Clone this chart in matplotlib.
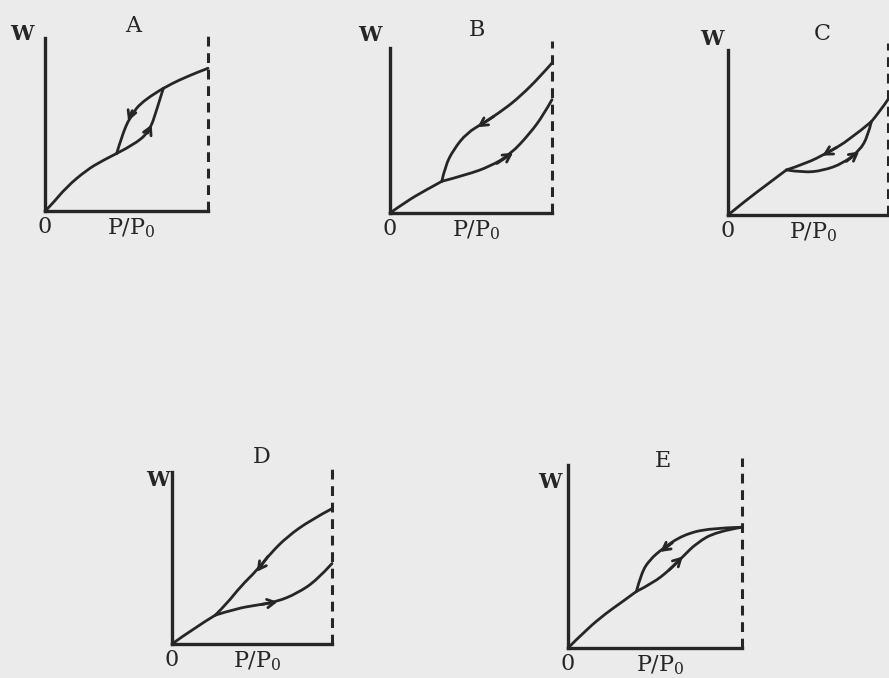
import matplotlib
matplotlib.use("Agg")
import matplotlib.pyplot as plt
from matplotlib.path import Path
from matplotlib.patches import PathPatch

plt.rcParams['font.family'] = ['DejaVu Serif']
plt.rcParams['mathtext.fontset'] = 'dejavuserif'

# panel boxes in pixels: (left, bottom, right, top) of the W axis / P/P0 axis
panel_box = {
    'A': (45, 211, 208, 38),
    'B': (390, 213, 552, 48),
    'C': (728, 215, 888, 50),
    'D': (172, 644, 332, 472),
    'E': (568, 648, 742, 465),
}
# pixel anchors (x centre, baseline) for the panel letter and the W label
letter_pos = {'A': (133, 32), 'B': (477, 36), 'C': (822, 40), 'D': (262, 463), 'E': (663, 467)}
w_pos = {'A': (22, 40), 'B': (370, 41), 'C': (712, 45), 'D': (158, 486), 'E': (550, 488)}

# curves, normalised to each panel (x: 0..1, y: 0..1)
A_common = [(0, 0), (0.03, 0.025), (0.133, 0.14), (0.256, 0.237), (0.35, 0.29), (0.44, 0.333)]
A_ads = [(0.44, 0.333), (0.562, 0.391), (0.644, 0.468), (0.685, 0.584), (0.726, 0.709)]
A_des = [(0.726, 0.709), (0.603, 0.642), (0.521, 0.545), (0.47, 0.43), (0.44, 0.333)]
A_top = [(0.726, 0.709), (0.79, 0.742), (0.849, 0.767), (0.93, 0.80), (1.0, 0.825)]
A_arrows = [((0.535, 0.58), (0.51, 0.52)), ((0.63, 0.45), (0.655, 0.50))]

B_common = [(0, 0), (0.103, 0.071), (0.206, 0.131), (0.32, 0.192)]
B_ads = [(0.32, 0.192), (0.474, 0.232), (0.619, 0.283), (0.742, 0.354), (0.866, 0.485), (0.948, 0.596), (1.0, 0.687)]
B_des = [(1.0, 0.909), (0.928, 0.828), (0.804, 0.707), (0.701, 0.626), (0.577, 0.545), (0.474, 0.485),
         (0.392, 0.384), (0.34, 0.283), (0.32, 0.192)]
B_top = []
B_arrows = [((0.64, 0.585), (0.54, 0.52)), ((0.66, 0.30), (0.76, 0.365))]

C_common = [(0, 0), (0.115, 0.091), (0.24, 0.182), (0.365, 0.273)]
C_ads = [(0.365, 0.273), (0.469, 0.257), (0.594, 0.269), (0.719, 0.313), (0.823, 0.39), (0.875, 0.48), (0.896, 0.566)]
C_des = [(0.896, 0.566), (0.76, 0.455), (0.615, 0.374), (0.49, 0.313), (0.365, 0.273)]
C_top = [(0.896, 0.566), (0.948, 0.626), (1.0, 0.70)]
C_arrows = [((0.68, 0.41), (0.59, 0.36)), ((0.74, 0.325), (0.82, 0.385))]

D_common = [(0, 0), (0.135, 0.091), (0.271, 0.168)]
D_ads = [(0.271, 0.168), (0.406, 0.207), (0.531, 0.226), (0.656, 0.246), (0.781, 0.294), (0.906, 0.371), (1.0, 0.468)]
D_des = [(1.0, 0.787), (0.865, 0.72), (0.719, 0.623), (0.615, 0.526), (0.531, 0.429), (0.427, 0.333),
         (0.344, 0.236), (0.271, 0.168)]
D_top = []
D_arrows = [((0.60, 0.51), (0.53, 0.42)), ((0.56, 0.23), (0.66, 0.245))]

E_common = [(0, 0), (0.105, 0.10), (0.22, 0.191), (0.297, 0.242), (0.393, 0.309)]
E_ads = [(0.393, 0.309), (0.489, 0.355), (0.584, 0.427), (0.661, 0.50), (0.738, 0.573), (0.852, 0.636), (1.0, 0.66)]
E_des = [(1.0, 0.66), (0.814, 0.655), (0.661, 0.618), (0.546, 0.545), (0.469, 0.482), (0.421, 0.409), (0.393, 0.309)]
E_top = []
E_arrows = [((0.60, 0.575), (0.53, 0.525)), ((0.58, 0.425), (0.66, 0.50))]

panels = {
    'A': (A_common, A_ads, A_des, A_top, A_arrows),
    'B': (B_common, B_ads, B_des, B_top, B_arrows),
    'C': (C_common, C_ads, C_des, C_top, C_arrows),
    'D': (D_common, D_ads, D_des, D_top, D_arrows),
    'E': (E_common, E_ads, E_des, E_top, E_arrows),
}

W, H = 889, 678
bg = '#ebebeb'
ink = '#262626'


def smooth_path(pts):
    # quadratic bezier pieces with the read points as control points
    verts = [pts[0]]
    codes = [Path.MOVETO]
    if len(pts) == 2:
        verts.append(pts[1])
        codes.append(Path.LINETO)
        return Path(verts, codes)
    for i in range(1, len(pts) - 1):
        if i < len(pts) - 2:
            end = ((pts[i][0] + pts[i + 1][0]) / 2, (pts[i][1] + pts[i + 1][1]) / 2)
        else:
            end = pts[i + 1]
        verts += [pts[i], end]
        codes += [Path.CURVE3, Path.CURVE3]
    return Path(verts, codes)


fig = plt.figure(figsize=(W / 100, H / 100), dpi=100, facecolor=bg)

for name, (common, ads, des, top, arrows) in panels.items():
    l, b, r, t = panel_box[name]
    ax = fig.add_axes([l / W, 1 - b / H, (r - l) / W, (b - t) / H])
    ax.set_xlim(0, 1)
    ax.set_ylim(0, 1)
    ax.patch.set_alpha(0)
    for s in ['top', 'right']:
        ax.spines[s].set_visible(False)
    for s in ['left', 'bottom']:
        ax.spines[s].set_linewidth(2.4)
        ax.spines[s].set_color(ink)
    ax.set_xticks([])
    ax.set_yticks([])

    # saturation pressure line
    ax.plot([1, 1], [0, 1.04], ls=(0, (3.2, 2.2)), lw=2.2, color=ink, clip_on=False)

    for seg in (common, ads, des, top):
        if seg:
            ax.add_patch(PathPatch(smooth_path(seg), fill=False, edgecolor=ink, lw=2.0,
                                   capstyle='round', clip_on=False))

    for tail, head in arrows:
        ax.annotate('', xy=head, xytext=tail,
                    arrowprops=dict(arrowstyle='->,head_length=0.55,head_width=0.3',
                                    color=ink, lw=2.0, shrinkA=0, shrinkB=0))

    wx, wy = w_pos[name]
    fig.text(wx / W, 1 - wy / H, 'W', ha='center', va='baseline', fontsize=15,
             color=ink, fontweight='bold')
    lx, ly = letter_pos[name]
    fig.text(lx / W, 1 - ly / H, name, ha='center', va='baseline', fontsize=16, color=ink)
    ax.text(0.0, -0.03, '0', ha='center', va='top', fontsize=16, color=ink,
            transform=ax.transAxes)
    ax.text(0.53, -0.03, 'P/P$_0$', ha='center', va='top', fontsize=16, color=ink,
            transform=ax.transAxes)

fig.savefig('out.png', dpi=100, facecolor=bg)
